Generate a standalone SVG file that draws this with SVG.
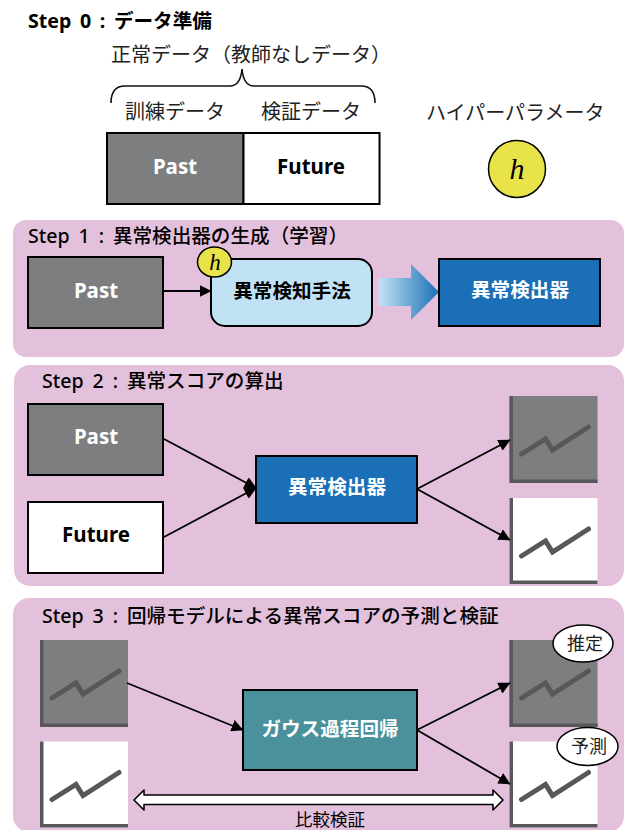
<svg xmlns="http://www.w3.org/2000/svg" width="626" height="830" viewBox="0 0 626 830">
<style>
text{font-family:"Noto Sans","Noto Sans CJK JP",sans-serif;fill:#000}
.title{font-size:19.600px;font-weight:700;word-spacing:3.500px}
.title2{font-size:19.600px;font-weight:500;word-spacing:3.800px}
.lab{font-size:20px;font-weight:400;fill:#222}
.nt{font-size:19.600px;font-weight:700;text-anchor:middle}
.lat{font-size:20.500px}
.w{fill:#fff}
.panel{fill:#e3c1dc}
.box{stroke:#000;stroke-width:2}
.past{fill:#7d7e80}
.fut{fill:#fff}
.blue{fill:#1a6fb6}
.teal{fill:#4b919b}
.hc{fill:#e9e34a;stroke:#000;stroke-width:1.5}
.h{font-family:"Liberation Serif",serif;font-style:italic;text-anchor:middle}
.conn{stroke:#000;stroke-width:1.8;fill:none;marker-end:url(#ah)}
.axis{fill:none;stroke:#58585a;stroke-width:3.500}
.spark{fill:none;stroke:#58585a;stroke-width:5;stroke-linecap:round;stroke-linejoin:miter}
.bub{fill:#fff;stroke:#000;stroke-width:1.5}
.bt{font-size:18px;text-anchor:middle;fill:#222}
</style>
<defs>
<marker id="ah" viewBox="0 0 12 12" refX="11.500" refY="6" markerWidth="12" markerHeight="12" markerUnits="userSpaceOnUse" orient="auto"><path d="M0 0L12 6L0 12Z" fill="#000"/></marker>
<linearGradient id="grad" x1="0" x2="1" y1="0" y2="0"><stop offset="0" stop-color="#c1e2f5"/><stop offset="1" stop-color="#1a71b8"/></linearGradient>
<g id="cg"><rect x="0" y="0" width="88" height="87" fill="#7d7e80"/><path class="axis" d="M1.750 0V85.250H88"/><path class="spark" d="M12 58L36 43L43 54L79 31"/></g>
<g id="cw"><rect x="0" y="0" width="88" height="86" fill="#fff"/><path class="axis" d="M1.750 0V84.250H88"/><path class="spark" d="M12 58L36 43L43 54L79 31"/></g>
</defs>
<rect width="626" height="830" fill="#fff"/>
<g id="panels">
<rect class="panel" x="13" y="220" width="611" height="137" rx="13"/>
<rect class="panel" x="14" y="365" width="610" height="221" rx="16"/>
<rect class="panel" x="13" y="598" width="611" height="234" rx="16"/>
</g>
<g id="step0">
<text class="title" x="28" y="28">Step 0 : データ準備</text>
<text class="lab" x="111" y="62">正常データ（教師なしデータ）</text>
<path d="M111 103C111 92 115 86 125 86H230C237 86 241 80 242 69C243 80 247 86 254 86H361C371 86 375 92 375 103" fill="none" stroke="#111" stroke-width="1.6"/>
<text class="lab" x="125" y="119">訓練データ</text>
<text class="lab" x="261" y="119">検証データ</text>
<text class="lab" x="426" y="120">ハイパーパラメータ</text>
</g>
<g id="s0-past"><rect class="box past" x="107" y="133" width="136.500" height="71"/><text class="nt lat w" x="175" y="174">Past</text></g>
<g id="s0-future"><rect class="box fut" x="243.500" y="133" width="136" height="71"/><text class="nt lat" x="311" y="174">Future</text></g>
<g id="s0-h"><circle class="hc" cx="517" cy="169" r="28.500"/><text class="h" x="517" y="179" font-size="30">h</text></g>
<g id="step1">
<text class="title2" x="28" y="243">Step 1 : 異常検出器の生成（学習）</text>
</g>
<g id="s1-past"><rect class="box past" x="28" y="257" width="135" height="71"/><text class="nt lat w" x="96" y="298">Past</text></g>
<g id="s1-method"><rect class="box" x="211" y="259" width="161" height="67" rx="14" fill="#c1e2f5"/><text class="nt" x="292" y="298">異常検知手法</text></g>
<g id="s1-h"><ellipse class="hc" cx="214.500" cy="262" rx="17" ry="15"/><text class="h" x="215" y="270" font-size="23">h</text></g>
<g id="s1-bigarrow"><path d="M379 278H411V264L439 292L411 320V306H379Z" fill="url(#grad)"/></g>
<g id="s1-det"><rect class="box blue" x="439" y="259" width="161" height="67"/><text class="nt w" x="520" y="297">異常検出器</text></g>
<g id="step2"><text class="title2" x="42" y="388">Step 2 : 異常スコアの算出</text></g>
<g id="s2-past"><rect class="box past" x="28" y="404" width="135" height="71"/><text class="nt lat w" x="96" y="444">Past</text></g>
<g id="s2-future"><rect class="box fut" x="28" y="502" width="135" height="71"/><text class="nt lat" x="96" y="542">Future</text></g>
<g id="s2-det"><rect class="box blue" x="256" y="456" width="161" height="67"/><text class="nt w" x="337" y="494">異常検出器</text></g>
<g id="s2-out1"><use href="#cg" x="509.500" y="396"/></g>
<g id="s2-out2"><use href="#cw" x="509.500" y="498"/></g>
<g id="step3"><text class="title2" x="42" y="623">Step 3 : 回帰モデルによる異常スコアの予測と検証</text></g>
<g id="s3-in1"><use href="#cg" x="40" y="640"/></g>
<g id="s3-in2"><use href="#cw" x="40" y="741.500"/></g>
<g id="s3-gp"><rect class="box teal" x="243" y="690" width="174" height="80"/><text class="nt w" x="330" y="736">ガウス過程回帰</text></g>
<g id="s3-out1"><use href="#cg" x="509.500" y="640"/></g>
<g id="s3-out2"><use href="#cw" x="509.500" y="741.500"/></g>
<g id="s3-est"><ellipse class="bub" cx="583" cy="643.500" rx="30" ry="18.500"/><text class="bt" x="585" y="650">推定</text></g>
<g id="s3-pred"><ellipse class="bub" cx="587.500" cy="746.500" rx="30.500" ry="19"/><text class="bt" x="589" y="753">予測</text></g>
<g id="s3-compare"><path d="M134 800L144 790V795H493V790L503 800L493 810V804.500H144V810Z" fill="#fff" stroke="#000" stroke-width="1.6" stroke-linejoin="round"/><text x="330" y="826" font-size="17.500" text-anchor="middle" fill="#222">比較検証</text></g>
<g id="connectors">
<path class="conn" d="M163 291H211"/>
<path class="conn" d="M164 439L256 488"/>
<path class="conn" d="M164 537L256 488"/>
<path class="conn" d="M417 489L510 440"/>
<path class="conn" d="M417 489L510 540"/>
<path class="conn" d="M127 683L243 730"/>
<path class="conn" d="M417 730L510 683"/>
<path class="conn" d="M417 730L510 784"/>
</g>
</svg>
